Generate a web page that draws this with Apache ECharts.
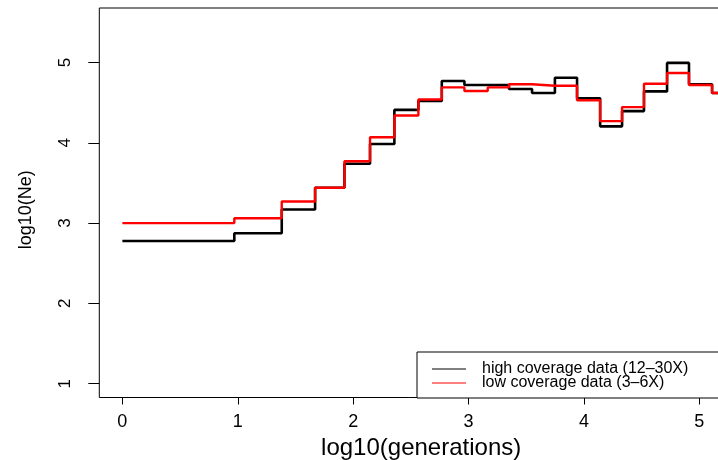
<!DOCTYPE html>
<html>
<head>
<meta charset="utf-8">
<script src="https://cdn.jsdelivr.net/npm/echarts@6/dist/echarts.min.js"></script>
<style>
  html, body { margin: 0; padding: 0; background: #fff; overflow: hidden; }
  #chart { width: 718px; height: 460px; }
</style>
</head>
<body>
<div id="chart"></div>
<script>
// Start of each time interval, log10(generations); the last entry closes the final interval
const logGenerations = [0, 0.97, 1.381, 1.67, 1.924, 2.146, 2.357, 2.565, 2.768, 2.964, 3.166,
  3.35, 3.55, 3.748, 3.94, 4.14, 4.33, 4.52, 4.72, 4.91, 5.11, 5.31];

// log10(Ne) held over each interval
const highCoverageNe = [2.777, 2.873, 3.17, 3.44, 3.74, 3.985, 4.41, 4.52, 4.77, 4.72, 4.72,
  4.67, 4.62, 4.81, 4.555, 4.205, 4.395, 4.64, 4.995, 4.73, 4.62, 4.62];
const lowCoverageNe = [3.0, 3.06, 3.27, 3.44, 3.77, 4.07, 4.34, 4.54, 4.69, 4.645, 4.69,
  4.73, 4.71, 4.71, 4.53, 4.27, 4.445, 4.735, 4.87, 4.72, 4.62, 4.62];

const seriesNames = ['high coverage data (12–30X)', 'low coverage data (3–6X)'];
const xTicks = [0, 1, 2, 3, 4, 5];
const yTicks = [1, 2, 3, 4, 5];

const FONT = '"Liberation Sans", Arial, Helvetica, sans-serif';

const toPairs = (xs, ys) => xs.map((x, i) => [x, ys[i]]);

const chart = echarts.init(document.getElementById('chart'), null, { renderer: 'canvas' });

chart.setOption({
  animation: false,
  backgroundColor: '#fff',
  textStyle: { fontFamily: FONT, color: '#000' },
  // the plotting region runs on past the right edge of the canvas
  grid: {
    left: 99.3, top: 8, width: 643.7, bottom: 62.5,
    containLabel: false,
    outerBoundsMode: 'none',
    show: true, borderColor: '#000', borderWidth: 1, backgroundColor: 'transparent'
  },
  xAxis: {
    type: 'value',
    min: -0.2, max: 5.378,
    name: 'log10(generations)',
    nameLocation: 'middle',
    nameGap: 39,
    nameTextStyle: { fontSize: 24, color: '#000', fontFamily: FONT },
    axisLine: { show: false, onZero: false },
    axisTick: { show: true, length: 7, lineStyle: { color: '#000', width: 1 }, customValues: xTicks },
    axisLabel: { fontSize: 18, color: '#000', margin: 16, fontFamily: FONT, customValues: xTicks },
    splitLine: { show: false }
  },
  yAxis: {
    type: 'value',
    min: 0.828, max: 5.679,
    name: 'log10(Ne)',
    nameLocation: 'middle',
    nameGap: 64,
    nameRotate: 90,
    nameTextStyle: { fontSize: 18, color: '#000', fontFamily: FONT, padding: [0, 14, 0, 0] },
    axisLine: { show: false, onZero: false },
    axisTick: { show: true, length: 11, lineStyle: { color: '#000', width: 1 }, customValues: yTicks },
    axisLabel: { fontSize: 17, color: '#000', margin: 25, rotate: 90, fontFamily: FONT, customValues: yTicks },
    splitLine: { show: false }
  },
  legend: {
    orient: 'vertical',
    left: 417, top: 352,
    padding: [9, 80, 7, 15],
    itemGap: -2,
    itemWidth: 34,
    itemHeight: 1,
    icon: 'rect',
    backgroundColor: '#fff',
    borderColor: '#000',
    borderWidth: 1,
    borderRadius: 0,
    textStyle: { fontSize: 16, color: '#000', fontFamily: FONT, padding: [0, 0, 0, 11] },
    data: seriesNames
  },
  series: [
    {
      name: seriesNames[0],
      type: 'line',
      step: 'end',
      symbol: 'none',
      color: '#000000',
      lineStyle: { color: '#000000', width: 2.6 },
      data: toPairs(logGenerations, highCoverageNe)
    },
    {
      name: seriesNames[1],
      type: 'line',
      step: 'end',
      symbol: 'none',
      color: '#ff0000',
      lineStyle: { color: '#ff0000', width: 2.4 },
      data: toPairs(logGenerations, lowCoverageNe)
    }
  ]
});
</script>
</body>
</html>
